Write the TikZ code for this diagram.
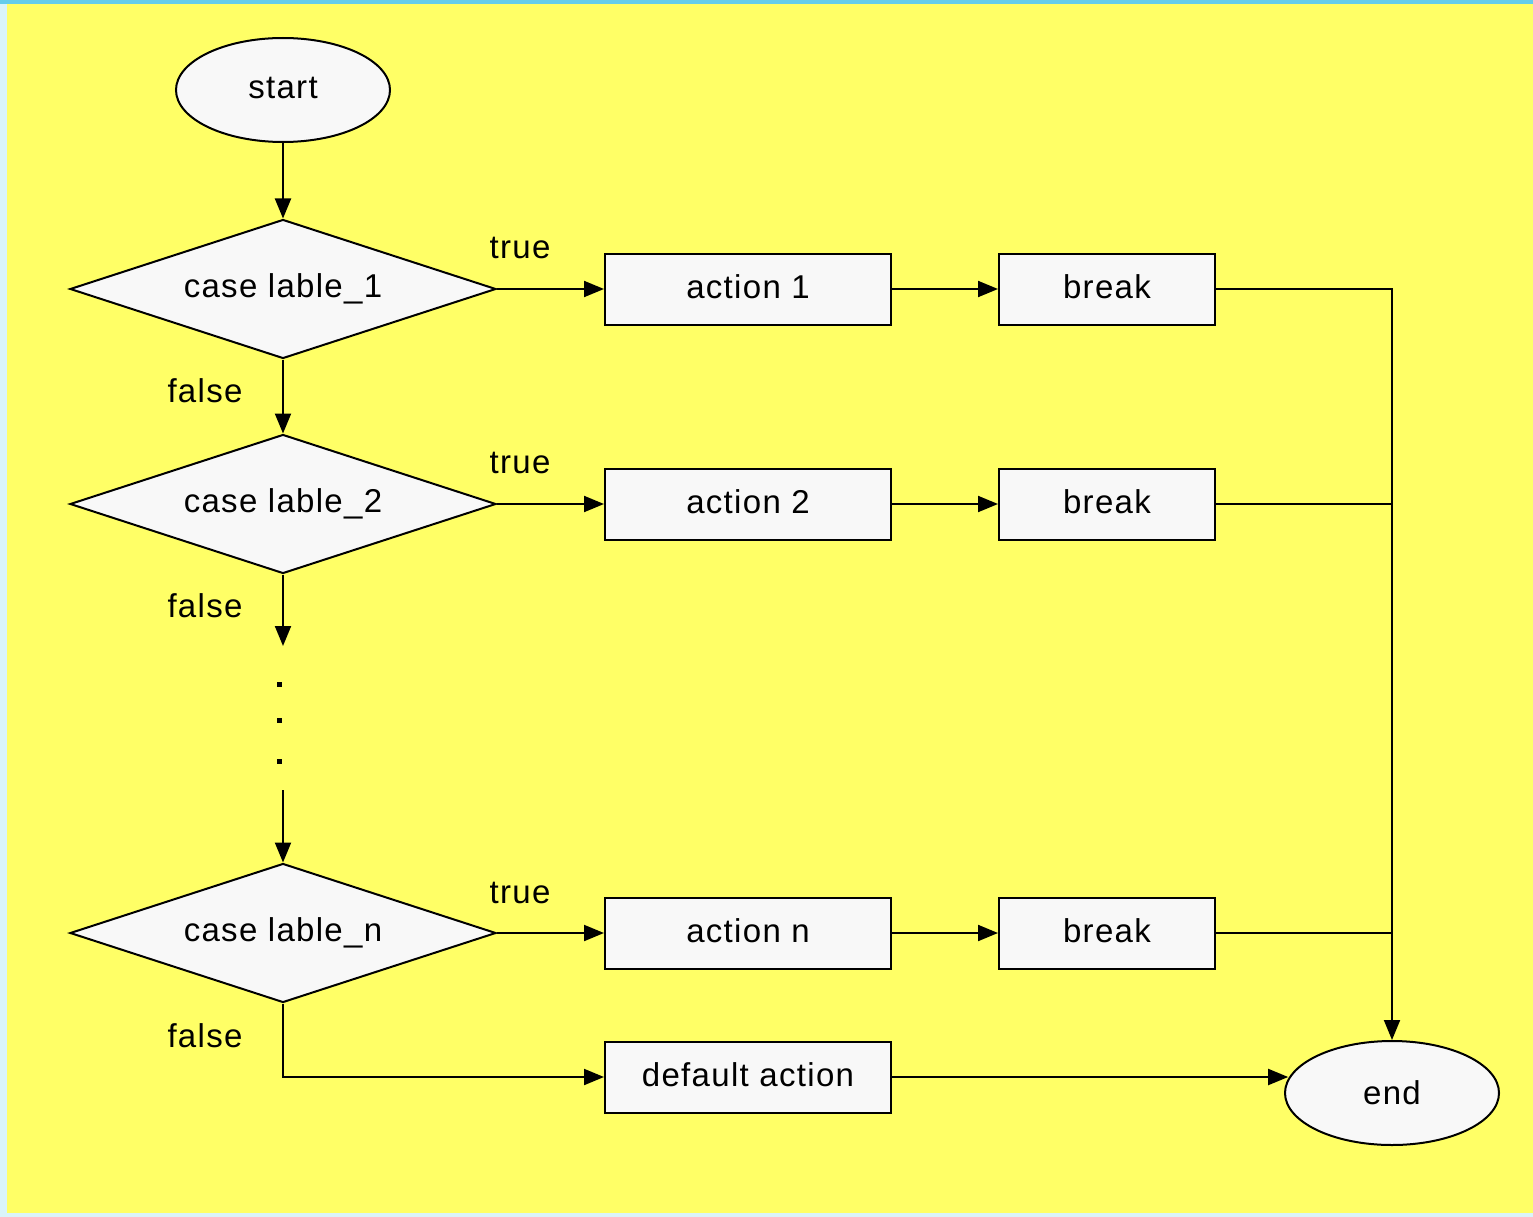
\documentclass[tikz,border=0pt]{standalone}
\usepackage{fontspec}
\setmainfont[LetterSpace=4]{Liberation Sans}
\usetikzlibrary{arrows.meta,shapes.geometric,calc}
\definecolor{bgyellow}{RGB}{255,255,102}
\definecolor{lightcyan}{RGB}{218,244,250}
\definecolor{topcyan}{RGB}{100,205,235}
\definecolor{nodefill}{RGB}{248,248,248}
\tikzset{
  base/.style={draw=black,line width=2pt,fill=nodefill,inner sep=0pt,font=\fontsize{33}{36}\selectfont},
  term/.style={base,ellipse,minimum width=214pt,minimum height=104pt},
  decision/.style={base,diamond,aspect=3.06,minimum width=426pt,minimum height=139pt},
  actbox/.style={base,rectangle,minimum width=286pt,minimum height=71pt},
  brkbox/.style={base,rectangle,minimum width=216pt,minimum height=71pt},
  conn/.style={line width=2pt,-{Triangle[length=20pt,width=16pt]}},
  plainline/.style={line width=2pt},
  lbl/.style={font=\fontsize{33}{36}\selectfont,inner sep=0pt},
  dotmark/.style={fill=black,minimum size=5pt,inner sep=0pt,rectangle}
}
\newcommand{\up}[1]{\raisebox{4pt}{#1}}
\begin{document}
\begin{tikzpicture}[x=1pt,y=-1pt]
\useasboundingbox (0,0) rectangle (1533,1217);
\fill[lightcyan] (0,0) rectangle (1533,1217);
\fill[topcyan] (0,0) rectangle (1533,4);
\fill[bgyellow] (7,4) rectangle (1533,1213);

\node[term] (start) at (283,90) {\up{start}};
\node[decision] (d1) at (283,289) {\up{case lable\_1}};
\node[decision] (d2) at (283,504) {\up{case lable\_2}};
\node[decision] (dn) at (283,933) {\up{case lable\_n}};
\node[actbox] (a1) at (748,289) {\up{action 1}};
\node[actbox] (a2) at (748,504) {\up{action 2}};
\node[actbox] (an) at (748,933) {\up{action n}};
\node[actbox] (ad) at (748,1077) {\up{default action}};
\node[brkbox] (b1) at (1107,289) {\up{break}};
\node[brkbox] (b2) at (1107,504) {\up{break}};
\node[brkbox] (bn) at (1107,933) {\up{break}};
\node[term] (end) at (1392,1093) {end};

\node[lbl] (t1) at (520,248) {true};
\node[lbl] (t2) at (520,463) {true};
\node[lbl] (tn) at (520,893) {true};
\node[lbl] (f1) at (205,391) {false};
\node[lbl] (f2) at (205,606) {false};
\node[lbl] (fn) at (205,1036) {false};

\coordinate (c2) at (283,646);
\coordinate (c3) at (283,790);
\node[dotmark] (p1) at (279,684) {};
\node[dotmark] (p2) at (279,720) {};
\node[dotmark] (p3) at (279,761) {};

\draw[conn] (start) -- (d1);
\draw[conn] (d1) -- (d2);
\draw[conn] (d2.south) -- (c2);
\draw[conn] (c3) -- (dn.north);
\draw[conn] (dn.south) |- (ad.west);

\draw[conn] (d1.east) -- (a1.west);
\draw[conn] (d2.east) -- (a2.west);
\draw[conn] (dn.east) -- (an.west);
\draw[conn] (a1) -- (b1);
\draw[conn] (a2) -- (b2);
\draw[conn] (an) -- (bn);

\coordinate (r1) at (end.north |- b1.east);
\draw[conn] (b1.east) -- (r1) -- (end.north);
\draw[plainline] (b2.east) -- (end.north |- b2.east);
\draw[plainline] (bn.east) -- (end.north |- bn.east);
\draw[conn] (ad.east) -- (ad.east -| end.172);
\end{tikzpicture}
\end{document}
